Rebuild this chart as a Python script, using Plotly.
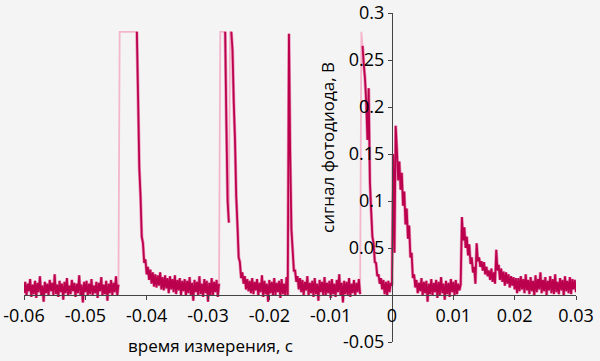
import numpy as np
import plotly.graph_objects as go

# Sampling of the photodiode record (seconds)
T0 = -0.06
DT = 0.0002

# Photodiode signal, volts, one value per sample
base_a = [0.002, 0.014, -0.001, 0.012, 0.004, 0.017, -0.002, 0.011, 0.001, 0.015,
          -0.003, 0.013, 0.003, 0.020, 0.000, 0.010, -0.007, 0.014, 0.002, 0.012,
          -0.001, 0.016, 0.004, 0.013, 0.000, 0.022, 0.001, 0.011, -0.002, 0.015,
          0.003, 0.012, -0.005, 0.014, 0.002, 0.018, -0.001, 0.010, 0.001, 0.016,
          0.004, 0.013, -0.002, 0.012, 0.002, 0.021, 0.000, 0.011, -0.008, 0.014,
          0.003, 0.015, -0.001, 0.012, 0.001, 0.017, 0.000, 0.010, 0.002, 0.014,
          -0.003, 0.013, 0.004, 0.019, -0.001, 0.011, 0.001, 0.015, -0.006, 0.012,
          0.002, 0.016, 0.000, 0.013, 0.003, 0.020, -0.001, 0.011]
pulse_1 = [0.28] * 15 + [0.21, 0.135, 0.105, 0.062, 0.055, 0.034, 0.038, 0.022, 0.03, 0.016]
base_b = [0.027, 0.012, 0.024, 0.009, 0.022, 0.008, 0.021, 0.010, 0.024, 0.006,
          0.019, 0.005, 0.021, 0.007, 0.018, 0.002, 0.020, 0.006, 0.017, 0.003,
          0.021, 0.001, 0.016, 0.005, 0.018, 0.000, 0.015, 0.004, 0.017, -0.001,
          0.015, 0.002, 0.019, 0.000, 0.013, -0.006, 0.016, 0.003, 0.014, -0.001,
          0.020, 0.001, 0.012, -0.002, 0.017, 0.002, 0.015, -0.007, 0.013, 0.000,
          0.018, -0.001, 0.014, 0.003, 0.016, -0.002, 0.012]
pulse_2 = [0.28, 0.28, 0.28, 0.28, 0.28, 0.18, 0.10, 0.077, 0.28, 0.28,
           0.26, 0.205, 0.165, 0.105, 0.075, 0.04, 0.035, 0.018, 0.024]
base_c = [0.012, 0.020, 0.006, 0.017, 0.004, 0.015, 0.002, 0.018, 0.001, 0.014,
          0.005, 0.017, -0.001, 0.013, 0.003, 0.021, -0.002, 0.015, 0.001, 0.012,
          -0.007, 0.016, 0.002, 0.014, -0.001, 0.018, 0.000, 0.013, 0.003, 0.015,
          -0.003, 0.017, 0.001, 0.012, -0.001, 0.019, 0.000]
pulse_3 = [0.278, 0.15, 0.07, 0.048, 0.026, 0.026, 0.014, 0.02]
base_d = [0.006, 0.018, 0.003, 0.016, 0.000, 0.014, 0.005, 0.020, -0.001, 0.013,
          0.002, 0.015, -0.002, 0.018, 0.001, 0.012, -0.006, 0.016, 0.003, 0.014,
          -0.001, 0.019, 0.000, 0.013, 0.002, 0.015, -0.003, 0.017, 0.001, 0.012,
          -0.002, 0.016, 0.003, 0.022, -0.001, 0.013, -0.008, 0.015, 0.001, 0.014,
          0.000, 0.018, -0.002, 0.012, 0.002, 0.016, -0.001, 0.013, 0.003, 0.017,
          0.001]
pulse_4 = [0.28, 0.265, 0.245, 0.23, 0.205, 0.165, 0.22, 0.12, 0.09, 0.062,
           0.055, 0.035, 0.034, 0.02, 0.022, 0.012, 0.018]
base_e = [0.006, 0.016, 0.001, 0.014, -0.001, 0.015, 0.003, 0.013, 0.010]
pulse_5 = [0.15, 0.045, 0.18, 0.155, 0.122, 0.142, 0.112, 0.13, 0.095, 0.11,
           0.075, 0.092, 0.06, 0.074, 0.04, 0.045, 0.018, 0.022, 0.008]
base_f = [0.016, 0.002, 0.013, 0.004, 0.018, -0.001, 0.014, 0.002, 0.015, -0.007,
          0.012, 0.001, 0.017, -0.001, 0.013, 0.003, 0.016, -0.003, 0.014, 0.000,
          0.019, 0.002, 0.012, -0.005, 0.015, 0.001, 0.013, -0.002, 0.017, 0.003,
          0.014, -0.001, 0.016, 0.001, 0.012, 0.005, 0.011]
pulse_6 = [0.083, 0.058, 0.072, 0.05, 0.062, 0.042, 0.054, 0.033, 0.04, 0.024,
           0.03, 0.012, 0.055, 0.036, 0.04, 0.03, 0.036, 0.026, 0.035, 0.022,
           0.03, 0.02, 0.026, 0.016, 0.028, 0.014, 0.024, 0.012, 0.048, 0.026,
           0.032, 0.016, 0.028, 0.014, 0.025, 0.01, 0.024, 0.012, 0.022, 0.008,
           0.02, 0.01, 0.019, 0.006, 0.018, 0.002]
base_g = [0.018, 0.004, 0.020, 0.006, 0.017, 0.002, 0.022, 0.005, 0.016, 0.001,
          0.019, 0.004, 0.015, -0.001, 0.021, 0.003, 0.017, 0.006, 0.024, 0.002,
          0.016, 0.004, 0.019, 0.000, 0.015, 0.005, 0.020, 0.002, 0.017, 0.001,
          0.022, 0.003, 0.014, 0.001, 0.018, 0.005, 0.016, -0.001, 0.020, 0.004,
          0.015, 0.002, 0.019, 0.001, 0.017, 0.006, 0.016, 0.003]

SATURATION = 0.28

x_ticks = [-0.06, -0.05, -0.04, -0.03, -0.02, -0.01, 0, 0.01, 0.02, 0.03]
x_labels = ["-0.06", "-0.05", "-0.04", "-0.03", "-0.02", "-0.01", "0", "0.01", "0.02", "0.03"]
y_ticks = [0.3, 0.25, 0.2, 0.15, 0.1, 0.05, -0.05]
y_labels = ["0.3", "0.25", "0.2", "0.15", "0.1", "0.05", "-0.05"]

signal = (base_a + pulse_1 + base_b + pulse_2 + base_c + pulse_3 + base_d +
          pulse_4 + base_e + pulse_5 + base_f + pulse_6 + base_g)
signal = np.array(signal, dtype=float)
t = T0 + DT * np.arange(len(signal))

# saturated samples are drawn only in the light line, except the last sample
# of a plateau, so that the dark decay starts from the top
sat = signal >= SATURATION
prev_sat = np.r_[False, sat[:-1]]
next_sat = np.r_[sat[1:], False]
keep = ~sat | (sat & prev_sat & ~next_sat)
unsat = np.where(keep, signal, np.nan)

fig = go.Figure()
# full record, thin light line (saturation plateaus and fast edges)
fig.add_trace(go.Scatter(x=t, y=signal, mode="lines",
                         line=dict(color="#f4b6cc", width=1.8, simplify=False),
                         hoverinfo="skip", showlegend=False))
# pink fringe of the noisy trace
fig.add_trace(go.Scatter(x=t, y=unsat, mode="lines",
                         line=dict(color="#ea93b5", width=3.2, simplify=False),
                         connectgaps=False, hoverinfo="skip", showlegend=False))
# dark core
fig.add_trace(go.Scatter(x=t, y=unsat, mode="lines",
                         line=dict(color="#bb004e", width=1.8, simplify=False),
                         connectgaps=False, showlegend=False))

font_family = "Open Sans, Liberation Sans, Arial, sans-serif"
fig.update_layout(
    width=600, height=361,
    margin=dict(l=24, r=24, t=13, b=19),
    paper_bgcolor="#f4f4f5", plot_bgcolor="#f4f4f5",
    font=dict(family=font_family, color="#000000"),
    xaxis=dict(range=[-0.06, 0.03], tickvals=x_ticks, ticktext=x_labels,
               anchor="free", position=0.05 / 0.35,
               showline=True, linecolor="#444444", linewidth=1,
               ticks="outside", ticklen=4, tickcolor="#444444",
               showgrid=False, zeroline=False, automargin=False,
               tickfont=dict(size=18, family=font_family, color="#000")),
    yaxis=dict(range=[-0.05, 0.3], tickvals=y_ticks, ticktext=y_labels,
               anchor="free", position=0.06 / 0.09,
               showline=True, linecolor="#444444", linewidth=1,
               ticks="outside", ticklen=4, tickcolor="#444444",
               showgrid=False, zeroline=False, automargin=False,
               tickfont=dict(size=18, family=font_family, color="#000")),
    annotations=[
        dict(text="время измерения, с", xref="paper", yref="paper",
             x=(210 - 24) / 552, y=(342 - 345) / 329, xanchor="center", yanchor="middle",
             showarrow=False, font=dict(size=17, family=font_family, color="#000")),
        dict(text="сигнал фотодиода, В", xref="paper", yref="paper",
             x=(327 - 24) / 552, y=(342 - 148) / 329, xanchor="center", yanchor="middle",
             textangle=-90, showarrow=False,
             font=dict(size=17, family=font_family, color="#000")),
    ],
)

fig.write_html("out.html", config={"displayModeBar": False},
               post_script="document.body.style.margin='0px';")
